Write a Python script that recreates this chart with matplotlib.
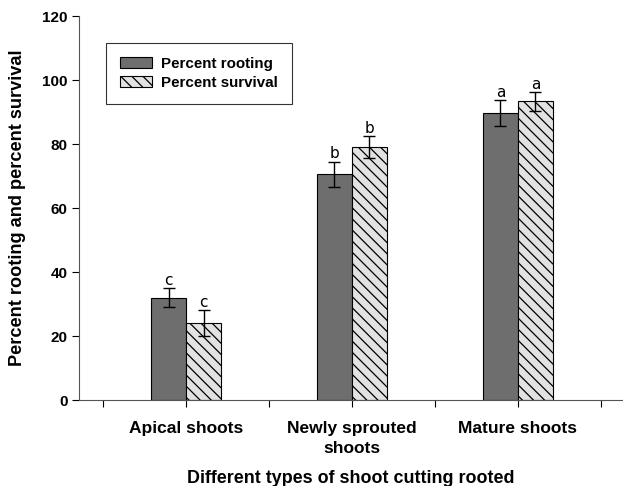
import matplotlib
matplotlib.use("Agg")
import matplotlib.pyplot as plt
import numpy as np

plt.rcParams['hatch.linewidth'] = 0.9

categories = ["Apical shoots", "Newly sprouted\nshoots", "Mature shoots"]
rooting = [32.0, 70.5, 89.7]
rooting_err = [3.0, 4.0, 4.0]
survival = [24.0, 79.0, 93.3]
survival_err = [4.0, 3.5, 3.0]
rooting_letters = ["c", "b", "a"]
survival_letters = ["c", "b", "a"]

W, H = 623, 486
fig = plt.figure(figsize=(W/100, H/100), dpi=100)
ax_l, ax_r, ax_b, ax_t = 78.8, 623, 400, 16
ax = fig.add_axes([ax_l/W, (H-ax_b)/H, (ax_r-ax_l)/W, (ax_b-ax_t)/H])

x = np.arange(1, len(categories) + 1)
w = 0.211
ax.bar(x - w/2, rooting, w, color="#6e6e6e", edgecolor="black", linewidth=0.8,
       label="Percent rooting", zorder=2)
ax.bar(x + w/2, survival, w, color="#e2e2e2", edgecolor="black", linewidth=0.8,
       hatch="\\\\\\", label="Percent survival", zorder=2)
ax.errorbar(x - w/2, rooting, yerr=rooting_err, fmt="none", ecolor="black",
            elinewidth=1, capsize=4.3, capthick=1, zorder=3)
ax.errorbar(x + w/2, survival, yerr=survival_err, fmt="none", ecolor="black",
            elinewidth=1, capsize=4.3, capthick=1, zorder=3)
for xi, v, e, t in zip(x - w/2, rooting, rooting_err, rooting_letters):
    ax.text(xi, v + e + 0.1, t, ha="center", va="bottom", fontsize=11, family="DejaVu Sans")
for xi, v, e, t in zip(x + w/2, survival, survival_err, survival_letters):
    ax.text(xi, v + e + 0.1, t, ha="center", va="bottom", fontsize=11, family="DejaVu Sans")

ax.set_xlim(0.354, 3.633)
ax.set_ylim(0, 120)
ax.set_yticks(np.arange(0, 121, 20))
ax.set_xticks([1, 2, 3])
ax.set_xticklabels(categories, fontsize=12.5, fontweight="bold", family="Liberation Sans",
                   linespacing=1.4)
ax.set_xticks(np.arange(0.5, 3.6, 0.5), minor=True)
ax.tick_params(axis="x", which="both", length=5, width=0.8, direction="out", pad=10)
ax.tick_params(axis="x", which="minor", labelbottom=False)
ax.tick_params(axis="y", length=5, width=0.8, direction="out", pad=3)
for lab in ax.get_yticklabels():
    lab.set_fontsize(11)
    lab.set_fontweight("bold")
    lab.set_family("Liberation Sans")

for s in ["top", "right"]:
    ax.spines[s].set_visible(False)
for s in ["left", "bottom"]:
    ax.spines[s].set_linewidth(0.8)
    ax.spines[s].set_color("#555555")

ax.set_ylabel("Percent rooting and percent survival", fontsize=13.1, fontweight="bold",
              family="Liberation Sans")
ax.yaxis.set_label_coords(-(ax_l-17.5)/(ax_r-ax_l), 0.5)
ax.yaxis.label.set_va("center")
ax.set_xlabel("Different types of shoot cutting rooted", fontsize=12.9, fontweight="bold",
              family="Liberation Sans")
ax.xaxis.set_label_coords(0.5, -(478-ax_b)/(ax_b-ax_t))
ax.xaxis.label.set_va("center")

leg = ax.legend(loc="upper left",
                bbox_to_anchor=((106-ax_l)/(ax_r-ax_l), (ax_b-43.3)/(ax_b-ax_t)),
                prop={"family": "Liberation Sans", "weight": "bold", "size": 10.9},
                frameon=True, fancybox=False, edgecolor="black", handlelength=2.15,
                handleheight=0.75, borderpad=0.9, labelspacing=0.35, handletextpad=0.6,
                borderaxespad=0)
leg.get_frame().set_linewidth(0.8)

fig.savefig("out.png", dpi=100)
